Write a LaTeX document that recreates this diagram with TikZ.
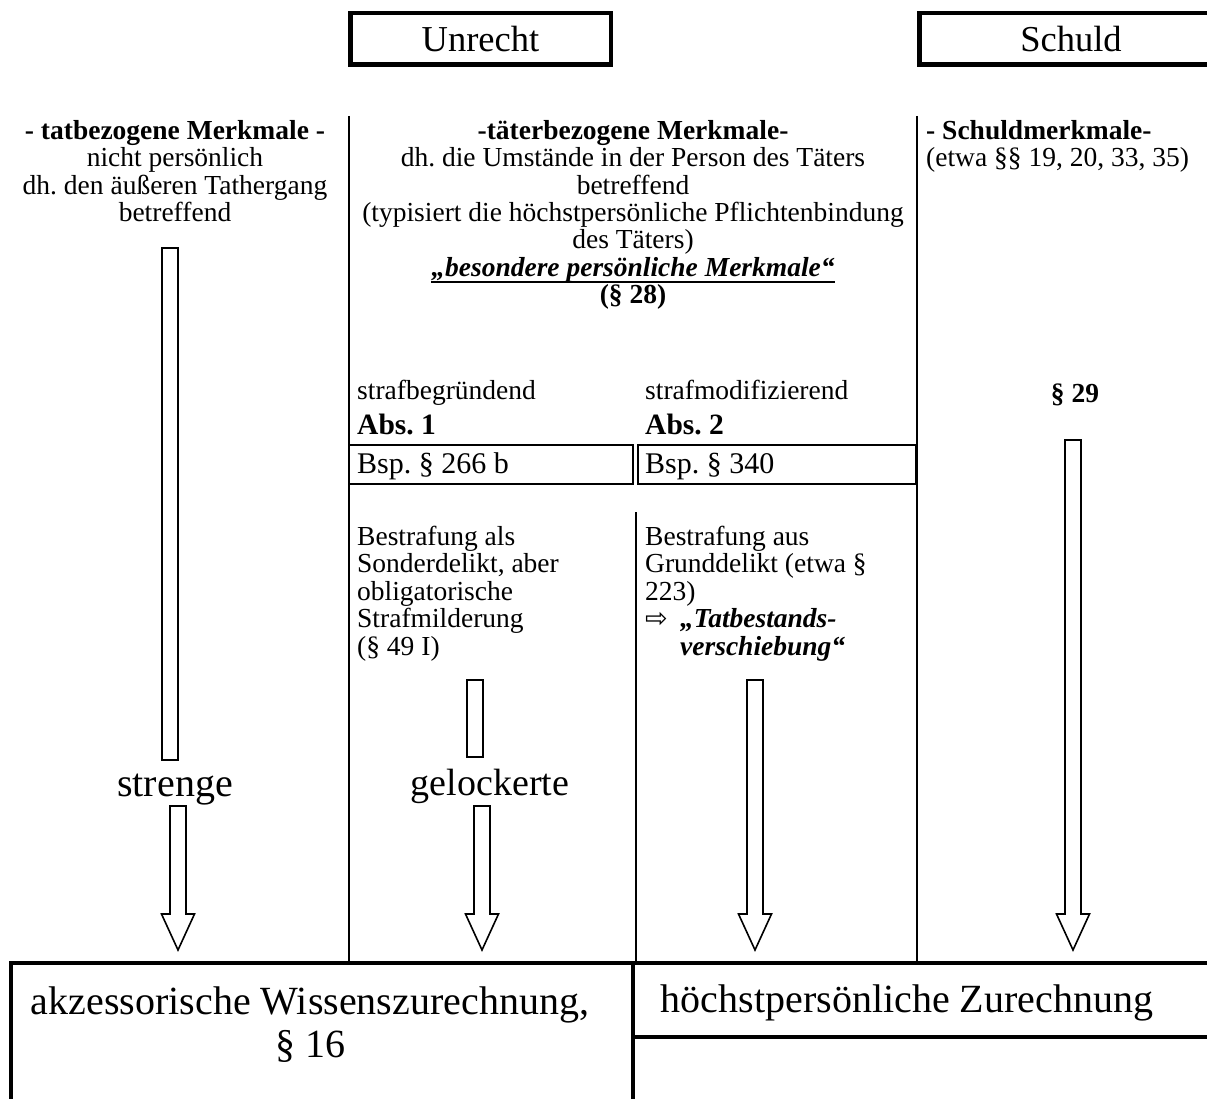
\documentclass[tikz,border=0pt]{standalone}
\usepackage{fontspec}
\setmainfont{Liberation Serif}
\newfontfamily\symf{DejaVu Sans}
\newcommand\bodyf{\fontsize{27.5}{27.4}\selectfont}
\newcommand\bigf{\fontsize{36.5}{41}\selectfont}
\newcommand\hugef{\fontsize{40}{50}\selectfont}
\newcommand\gelf{\fontsize{38}{46}\selectfont}
\newcommand\absf{\fontsize{29.5}{33}\selectfont}
\newcommand\bspf{\fontsize{30}{33}\selectfont}
\newcommand\thickul[1]{\setbox0=\hbox{#1}\rlap{\rule[-7pt]{\wd0}{2pt}}\box0}
\newcommand\harrowdown[4]{% cx, top, head base, tip
  \draw[harrow] (#1-8,#2) -- (#1+8,#2) -- (#1+8,#3) -- (#1+16.5,#3) -- (#1,#4)
    -- (#1-16.5,#3) -- (#1-8,#3) -- cycle;}
\begin{document}
\frenchspacing
\begin{tikzpicture}[x=1pt,y=-1pt,
  thickline/.style={line width=4.5pt},
  colline/.style={line width=2pt},
  bspline/.style={line width=2.4pt},
  harrow/.style={draw,line width=1.6pt,fill=white,line join=miter},
  shaft/.style={draw,line width=1.6pt,fill=white},
  txt/.style={inner sep=0pt,font=\bodyf},
  titlebox/.style={draw,line width=4.5pt,inner sep=0pt,font=\bigf,
    minimum height=51.5pt},
]
\useasboundingbox (0,0) rectangle (1207,1099);
\clip (0,0) rectangle (1207,1099);
\fill[white] (0,0) rectangle (1207,1099);

% title boxes
\node[titlebox,minimum width=260.5pt] (unrecht) at (480.5,39) {Unrecht};
\node[titlebox,minimum width=303.5pt] (schuld) at (1071,39) {Schuld};

% column lines
\coordinate (c1t) at (349,116);
\coordinate (c1b) at (349,963);
\coordinate (c3t) at (917,116);
\coordinate (c3b) at (917,963);
\coordinate (c2t) at (636,512);
\coordinate (c2b) at (636,963);
\draw[colline] (c1t) -- (c1b);
\draw[colline] (c3t) -- (c3b);
\draw[colline] (c2t) -- (c2b);

% headers
\node[txt,align=center,anchor=north] (tat) at (175,120)
  {\textbf{- tatbezogene Merkmale -}\\nicht persönlich\\dh. den äußeren Tathergang\\betreffend};
\node[txt,align=center,anchor=north] (taeter) at (633,120)
  {\textbf{-täterbezogene Merkmale-}\\dh. die Umstände in der Person des Täters\\betreffend\\(typisiert die höchstpersönliche Pflichtenbindung\\des Täters)\\\thickul{\textbf{\textit{„besondere persönliche Merkmale“}}}\\\textbf{(§ 28)}};
\node[txt,align=left,anchor=north west] (schuldm) at (926,120)
  {\textbf{- Schuldmerkmale-}\\(etwa §§ 19, 20, 33, 35)};

% Abs. 1 / Abs. 2
\node[txt,anchor=base west] (sb) at (357,399) {strafbegründend};
\node[txt,anchor=base west,font=\absf\bfseries] (abs1) at (357,434) {Abs. 1};
\node[txt,anchor=base west] (sm) at (645,399) {strafmodifizierend};
\node[txt,anchor=base west,font=\absf\bfseries] (abs2) at (645,434) {Abs. 2};
\node[txt,anchor=base,font=\bodyf\bfseries] (p29) at (1075,402) {§ 29};

% Bsp boxes
\draw[bspline] (349,445) rectangle (633,484);
\draw[bspline] (638,445) rectangle (916,484);
\node[txt,anchor=base west,font=\bspf] (bsp1) at (357,473) {Bsp. § 266 b};
\node[txt,anchor=base west,font=\bspf] (bsp2) at (645,473) {Bsp. § 340};

% consequences
\node[txt,align=left,anchor=north west] (bes1) at (357,526)
  {Bestrafung als\\Sonderdelikt, aber\\obligatorische\\Strafmilderung\\(§ 49 I)};
\node[txt,align=left,anchor=north west] (bes2) at (645,526)
  {Bestrafung aus\\Grunddelikt (etwa §\\223)\\\makebox[35pt][l]{\symf\fontsize{27}{27}\selectfont ⇨}\textbf{\textit{„Tatbestands-}}\\\hspace*{35pt}\textbf{\textit{verschiebung“}}};

% labels
\node[txt,anchor=base,font=\hugef] (streng) at (175,796) {strenge};
\node[txt,anchor=base,font=\gelf] (gelock) at (490,795) {gelockerte};

% bottom boxes
\draw[thickline] (11,963) rectangle (633,1130);
\draw[thickline] (633,963) rectangle (1230,1037);
\node[txt,anchor=base,font=\hugef] (akz) at (310,1014)
  {akzessorische Wissenszurechnung,};
\node[txt,anchor=base,font=\hugef] (p16) at (310,1057) {§ 16};
\node[txt,anchor=base,font=\hugef] (hoechst) at (907,1012)
  {höchstpersönliche Zurechnung};

% hollow arrows
\draw[shaft] (162,248) rectangle (178,760);
\harrowdown{178}{806}{914}{950}
\draw[shaft] (467,680) rectangle (483,757);
\harrowdown{482}{806}{914}{950}
\harrowdown{755}{680}{914}{950}
\harrowdown{1073}{440}{914}{950}
\end{tikzpicture}
\end{document}
